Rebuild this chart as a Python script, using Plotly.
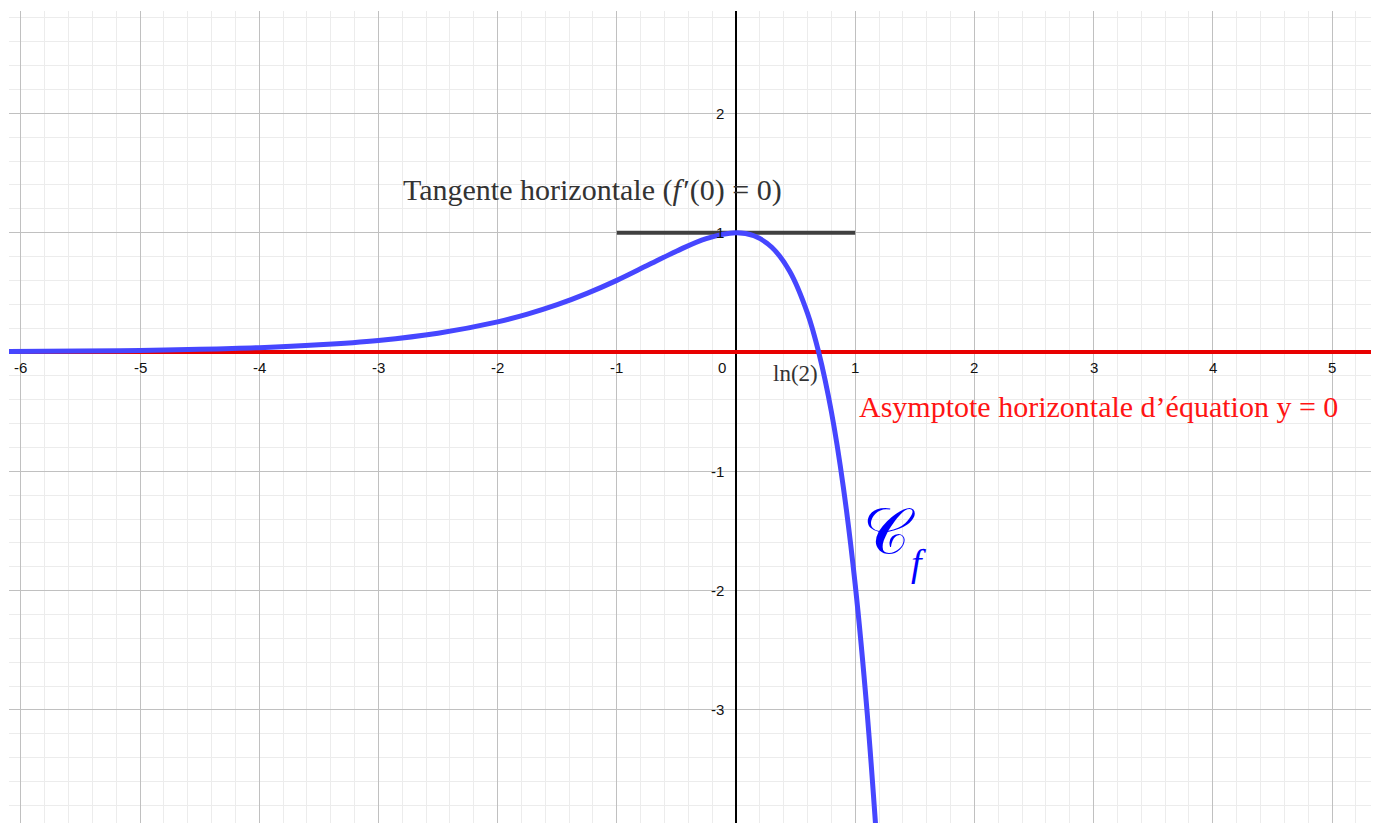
import plotly.graph_objects as go

# Sampled points of the curve C_f
curve_x = [-6.1, -5.5, -5.0, -4.5, -4.0, -3.5, -3.0, -2.5, -2.0, -1.75, -1.5, -1.25,
           -1.0, -0.75, -0.5, -0.25, 0.0, 0.15, 0.3, 0.45, 0.6, 0.693, 0.8, 0.9,
           1.0, 1.1, 1.2]
curve_y = [0.0045, 0.008, 0.013, 0.022, 0.036, 0.060, 0.097, 0.157, 0.252, 0.317,
           0.396, 0.491, 0.600, 0.722, 0.845, 0.951, 1.0, 0.974, 0.878, 0.677,
           0.324, 0.0, -0.50, -1.13, -1.95, -3.02, -4.38]

# Horizontal tangent at x = 0
tangent_x = [-1, 1]
tangent_y = [1, 1]

# Horizontal asymptote y = 0
asym_x = [-7, 7]
asym_y = [0, 0]

# Axis tick labels
x_tick_vals = [-6, -5, -4, -3, -2, -1, 0, 1, 2, 3, 4, 5]
x_tick_text = ["-6", "-5", "-4", "-3", "-2", "-1", "0", "1", "2", "3", "4", "5"]
y_tick_vals = [-3, -2, -1, 1, 2]
y_tick_text = ["-3", "-2", "-1", "1", "2"]

X_RANGE = [-6.099, 5.327]
Y_RANGE = [-3.948, 2.858]

fig = go.Figure()

fig.add_trace(go.Scatter(x=asym_x, y=asym_y, mode="lines",
                         line=dict(color="rgb(232,0,0)", width=4),
                         hoverinfo="skip", showlegend=False))
fig.add_trace(go.Scatter(x=tangent_x, y=tangent_y, mode="lines",
                         line=dict(color="rgb(64,64,64)", width=4),
                         hoverinfo="skip", showlegend=False))
fig.add_trace(go.Scatter(x=curve_x, y=curve_y, mode="lines",
                         line=dict(color="rgb(70,70,255)", width=5, shape="spline"),
                         showlegend=False))

annotations = []
tick_font = dict(family="Liberation Sans, DejaVu Sans, sans-serif", size=15, color="#111")
for v, t in zip(x_tick_vals, x_tick_text):
    xv = -0.12 if v == 0 else v
    annotations.append(dict(x=xv, y=-0.13, xref="x", yref="y", text=t,
                            showarrow=False, font=tick_font,
                            xanchor="center", yanchor="middle"))
for v, t in zip(y_tick_vals, y_tick_text):
    annotations.append(dict(x=-0.085, y=v, xref="x", yref="y", text=t,
                            showarrow=False, font=tick_font,
                            xanchor="right", yanchor="middle"))

serif = "Liberation Serif, DejaVu Serif, serif"
annotations += [
    dict(x=-1.208, y=1.36, xref="x", yref="y",
         text="Tangente horizontale (<i>f</i>\u200a′(0)\u2005=\u20050)",
         showarrow=False, font=dict(family=serif, size=30, color="#333"),
         xanchor="center", yanchor="middle"),
    dict(x=0.495, y=-0.18, xref="x", yref="y", text="ln(2)",
         showarrow=False, font=dict(family=serif, size=23, color="#333"),
         xanchor="center", yanchor="middle"),
    dict(x=3.037, y=-0.455, xref="x", yref="y",
         text="Asymptote horizontale d’équation y\u2005=\u20050",
         showarrow=False, font=dict(family=serif, size=30, color="rgb(255,20,20)"),
         xanchor="center", yanchor="middle"),
    dict(x=1.285, y=-1.5, xref="x", yref="y", text="𝒞",
         showarrow=False, font=dict(family="DejaVu Serif, serif", size=64, color="rgb(0,0,255)"),
         xanchor="center", yanchor="middle"),
    dict(x=1.535, y=-1.77, xref="x", yref="y", text="<i>f</i>",
         showarrow=False, font=dict(family=serif, size=38, color="rgb(0,0,255)"),
         xanchor="center", yanchor="middle"),
]

fig.update_layout(
    width=1376, height=823,
    margin=dict(l=9, r=5, t=11, b=0),
    paper_bgcolor="white", plot_bgcolor="white",
    annotations=annotations,
    xaxis=dict(range=X_RANGE, dtick=1, tick0=0, showticklabels=False, ticks="",
               showgrid=True, gridcolor="rgb(192,192,192)", gridwidth=1.2,
               minor=dict(dtick=0.2, tick0=0, showgrid=True,
                          gridcolor="rgb(236,236,236)", gridwidth=1),
               zeroline=True, zerolinecolor="black", zerolinewidth=1.5,
               showline=False, fixedrange=True),
    yaxis=dict(range=Y_RANGE, dtick=1, tick0=0, showticklabels=False, ticks="",
               showgrid=True, gridcolor="rgb(192,192,192)", gridwidth=1.2,
               minor=dict(dtick=0.2, tick0=0, showgrid=True,
                          gridcolor="rgb(236,236,236)", gridwidth=1),
               zeroline=True, zerolinecolor="black", zerolinewidth=1.5,
               showline=False, fixedrange=True),
)

fig.write_html("out.html")
